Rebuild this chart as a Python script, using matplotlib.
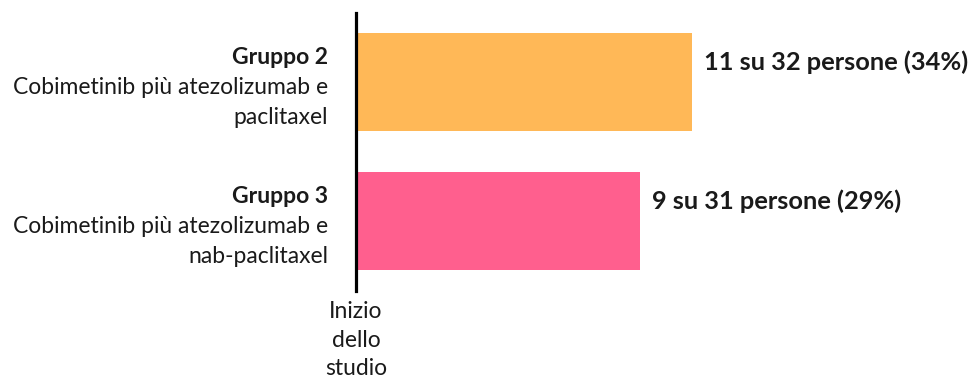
import matplotlib.pyplot as plt

# risposte per gruppo
gruppi = ["Gruppo 2", "Gruppo 3"]
trattamenti = [["Cobimetinib più atezolizumab e", "paclitaxel"],
               ["Cobimetinib più atezolizumab e", "nab-paclitaxel"]]
rispondenti = [11, 9]
totali = [32, 31]
colori = ["#FFB857", "#FF5F8E"]

plt.rcParams['font.family'] = ['Lato', 'DejaVu Sans']
testo = "#1a1a1a"

fig = plt.figure(figsize=(9.73, 3.79), dpi=100)
ax = fig.add_axes([356 / 973, 88 / 379, 617 / 973, 278 / 379])

perc = [100 * r / t for r, t in zip(rispondenti, totali)]
ypos = list(range(len(gruppi)))
ax.barh(ypos, perc, height=0.71, color=colori, left=0)

ax.set_xlim(0, 617 / 9.77)
ax.set_ylim(1.504, -0.496)
for s in ["top", "right", "bottom"]:
    ax.spines[s].set_visible(False)
ax.spines["left"].set_linewidth(2.3)
ax.spines["left"].set_color("black")
ax.set_xticks([])
ax.set_yticks([])

px = 72 / 100  # punti per pixel

for i, (g, tr) in enumerate(zip(gruppi, trattamenti)):
    ax.annotate(g, xy=(0, i), xytext=(-28 * px, 24 * px), textcoords="offset points",
                ha="right", va="center", fontsize=16.5, fontweight="bold", color=testo)
    for k, riga in enumerate(tr):
        ax.annotate(riga, xy=(0, i), xytext=(-28 * px, (-6 - 30 * k) * px),
                    textcoords="offset points", ha="right", va="center",
                    fontsize=16.5, color=testo)
    etichetta = f"{rispondenti[i]} su {totali[i]} persone ({perc[i]:.0f}%)"
    ax.annotate(etichetta, xy=(perc[i], i), xytext=(12 * px, 20 * px),
                textcoords="offset points", ha="left", va="center",
                fontsize=18.3, fontweight="bold", color=testo)

# etichetta sotto la linea di partenza
for k, riga in enumerate(["Inizio", "dello", "studio"]):
    ax.annotate(riga, xy=(0, 1.504), xytext=(0, (-21 - 28.5 * k) * px),
                textcoords="offset points", ha="center", va="center",
                fontsize=16.5, color=testo, annotation_clip=False)

fig.savefig("out.png", dpi=100)
